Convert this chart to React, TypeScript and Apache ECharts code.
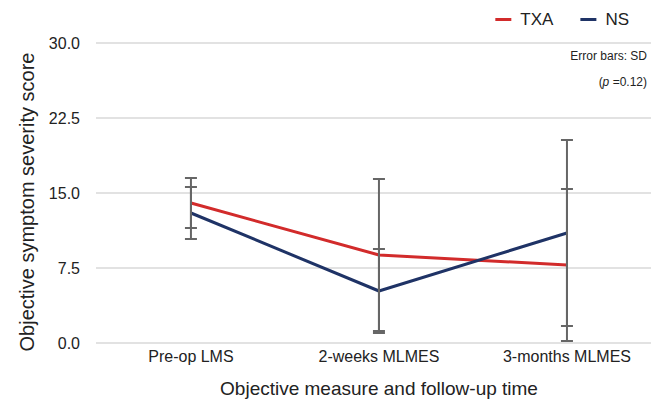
import React, { useEffect, useRef } from "react";
import * as echarts from "echarts";

const categories = ["Pre-op LMS", "2-weeks MLMES", "3-months MLMES"];
const txaMean = [14.0, 8.8, 7.8];
const txaSD = [2.5, 7.6, 7.6];
const nsMean = [13.0, 5.2, 11.0];
const nsSD = [2.6, 4.2, 9.3];
const yTicks = [0, 7.5, 15, 22.5, 30];

const RED = "#d22b2b";
const NAVY = "#1f3366";
const FONT = "Liberation Sans, Arial, sans-serif";

export default function App() {
  const ref = useRef<HTMLDivElement>(null);
  useEffect(() => {
    if (!ref.current) return;
    const chart = echarts.init(ref.current, null, { renderer: "svg" });
    const errData: number[][] = [];
    txaMean.forEach((m, i) => errData.push([i, m - txaSD[i], m + txaSD[i]]));
    nsMean.forEach((m, i) => errData.push([i, m - nsSD[i], m + nsSD[i]]));

    chart.setOption({
      animation: false,
      textStyle: { fontFamily: FONT },
      legend: {
        right: 27,
        top: 6,
        itemWidth: 16,
        itemHeight: 3,
        itemGap: 27,
        icon: "rect",
        textStyle: { fontSize: 17, color: "#222", fontFamily: FONT, padding: [0, 0, 0, 4] },
        data: ["TXA", "NS"],
      },
      grid: { left: 96, right: 10, top: 43, bottom: 62 },
      xAxis: {
        type: "value",
        min: -0.505,
        max: 2.447,
        name: "Objective measure and follow-up time",
        nameLocation: "middle",
        nameGap: 36,
        nameTextStyle: { fontSize: 19, color: "#222", fontFamily: FONT, padding: [0, 0, 0, 11] },
        axisLine: { show: false },
        axisTick: { show: false },
        splitLine: { show: false },
        axisLabel: {
          customValues: [0, 1, 2],
          formatter: (v: number) => categories[Math.round(v)] ?? "",
          fontSize: 16,
          color: "#222",
          margin: 5,
          fontFamily: FONT,
        },
      },
      yAxis: {
        type: "value",
        min: 0,
        max: 30,
        interval: 7.5,
        name: "Objective symptom severity score",
        nameLocation: "middle",
        nameGap: 59,
        nameTextStyle: { fontSize: 20, color: "#222", fontFamily: FONT, padding: [0, 18, 0, 0] },
        axisLine: { show: false },
        axisTick: { show: false },
        splitLine: { lineStyle: { color: "#d9d9d9", width: 1.5 } },
        axisLabel: {
          formatter: (v: number) => (yTicks.includes(v) ? v.toFixed(1) : ""),
          fontSize: 16,
          color: "#222",
          margin: 16,
          fontFamily: FONT,
        },
      },
      series: [
        {
          name: "TXA",
          type: "line",
          data: txaMean.map((v, i) => [i, v]),
          showSymbol: false,
          symbol: "none",
          lineStyle: { color: RED, width: 3 },
          itemStyle: { color: RED },
          z: 3,
        },
        {
          name: "NS",
          type: "line",
          data: nsMean.map((v, i) => [i, v]),
          showSymbol: false,
          symbol: "none",
          lineStyle: { color: NAVY, width: 3 },
          itemStyle: { color: NAVY },
          z: 3,
        },
        {
          type: "custom",
          z: 4,
          silent: true,
          data: errData,
          renderItem: (params: any, api: any) => {
            const x = api.value(0);
            const lo = api.coord([x, api.value(1)]);
            const hi = api.coord([x, api.value(2)]);
            const w = 6;
            const style = { stroke: "#666", lineWidth: 2 };
            return {
              type: "group",
              children: [
                { type: "line", shape: { x1: lo[0], y1: lo[1], x2: hi[0], y2: hi[1] }, style },
                { type: "line", shape: { x1: lo[0] - w, y1: lo[1], x2: lo[0] + w, y2: lo[1] }, style },
                { type: "line", shape: { x1: hi[0] - w, y1: hi[1], x2: hi[0] + w, y2: hi[1] }, style },
              ],
            };
          },
        },
      ],
      graphic: [
        {
          type: "text",
          right: 14,
          top: 50,
          style: { text: "Error bars: SD", fontSize: 12, fill: "#222", fontFamily: FONT },
        },
        {
          type: "text",
          right: 14,
          top: 76,
          style: {
            text: "({i|p} =0.12)",
            fontSize: 12,
            fill: "#222",
            fontFamily: FONT,
            rich: { i: { fontStyle: "italic", fontSize: 12, fontFamily: FONT, fill: "#222" } },
          },
        },
      ],
    });
    return () => chart.dispose();
  }, []);
  return <div ref={ref} style={{ width: 661, height: 405, position: "absolute", left: 0, top: 0 }} />;
}
